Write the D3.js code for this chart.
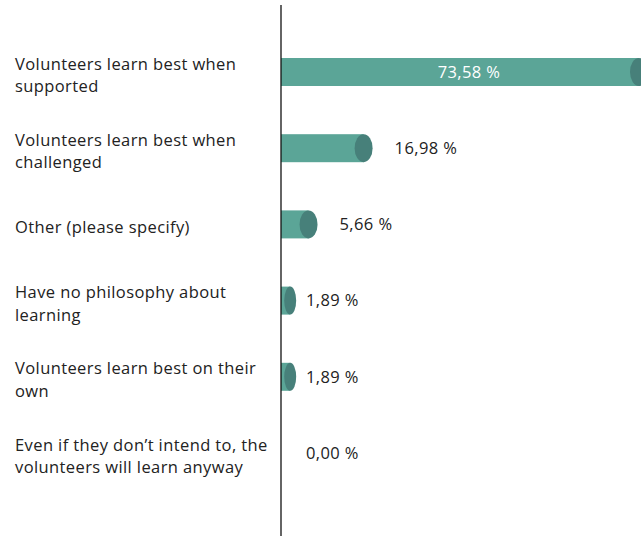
<!DOCTYPE html>
<meta charset="utf-8">
<script src="https://d3js.org/d3.v7.min.js"></script>
<style>
  body { margin: 0; background: #fff; }
  text { font-family: "Open Sans", Lato, sans-serif; letter-spacing: 0.4px; }
</style>
<div id="chart"></div>
<script>
  // answers and their share of responses (%)
  var answers = [
    "Volunteers learn best when supported",
    "Volunteers learn best when challenged",
    "Other (please specify)",
    "Have no philosophy about learning",
    "Volunteers learn best on their own",
    "Even if they don\u2019t intend to, the volunteers will learn anyway"
  ];
  var shares = [73.58, 16.98, 5.66, 1.89, 1.89, 0.00];

  var rows = answers.map(function (a, i) { return { answer: a, value: shares[i] }; });

  var width = 641, height = 536;
  var x0 = 281, barH = 28;

  var svg = d3.select("#chart").append("svg")
    .attr("width", width)
    .attr("height", height);

  var x = d3.scaleLinear()
    .domain([0, 73.58])
    .range([x0, 639]);

  var y = d3.scalePoint()
    .domain(answers)
    .range([72, 453]);

  var fmt = function (v) { return d3.format(".2f")(v).replace(".", ",") + " %"; };
  var capR = function (d) { return Math.min(9, (x(d.value) - x0) * 0.65); };

  // bar bodies
  svg.selectAll(".bar")
    .data(rows.filter(function (d) { return d.value > 0; }))
    .enter()
    .append("rect")
    .attr("x", x0)
    .attr("y", function (d) { return y(d.answer) - barH / 2; })
    .attr("width", function (d) { return x(d.value) - x0; })
    .attr("height", barH)
    .style("fill", "#5ba597");

  // cylinder end caps
  svg.selectAll(".cap")
    .data(rows.filter(function (d) { return d.value > 0; }))
    .enter()
    .append("ellipse")
    .attr("cx", function (d) { return x(d.value); })
    .attr("cy", function (d) { return y(d.answer); })
    .attr("rx", capR)
    .attr("ry", barH / 2)
    .style("fill", "#47807a");

  // value labels
  svg.selectAll(".val")
    .data(rows)
    .enter()
    .append("text")
    .attr("x", function (d, i) {
      if (i === 0) return (x0 + x(d.value) + 2 * capR(d)) / 2;
      var r = d.value > 0 ? capR(d) : 0;
      return Math.max(x0 + 25, x(d.value) + r + Math.min(22, 4 * d.value));
    })
    .attr("y", function (d) { return y(d.answer); })
    .attr("dy", "0.35em")
    .attr("text-anchor", function (d, i) { return i === 0 ? "middle" : "start"; })
    .style("font-size", "16.5px")
    .style("fill", function (d, i) { return i === 0 ? "#fff" : "#222"; })
    .text(function (d) { return fmt(d.value); });

  // category labels, wrapped
  var labels = svg.selectAll(".lab")
    .data(rows)
    .enter()
    .append("text")
    .attr("x", 15)
    .style("font-size", "16.5px")
    .style("fill", "#222");

  labels.each(function (d) {
    var el = d3.select(this);
    var words = d.answer.split(" ");
    var lines = [], line = [];
    var probe = el.append("tspan");
    words.forEach(function (w) {
      line.push(w);
      probe.text(line.join(" "));
      if (probe.node().getComputedTextLength() > 262 && line.length > 1) {
        line.pop();
        lines.push(line.join(" "));
        line = [w];
      }
    });
    lines.push(line.join(" "));
    probe.remove();
    var lh = 22.5;
    var top = y(d.answer) + 3 - (lines.length - 1) * lh / 2;
    lines.forEach(function (t, k) {
      el.append("tspan")
        .attr("x", 15)
        .attr("y", top + k * lh)
        .attr("dy", "0.35em")
        .text(t);
    });
  });

  // vertical axis line
  svg.append("line")
    .attr("x1", x0).attr("x2", x0)
    .attr("y1", 5).attr("y2", height)
    .style("stroke", "#111")
    .style("stroke-width", 1.3);
</script>
